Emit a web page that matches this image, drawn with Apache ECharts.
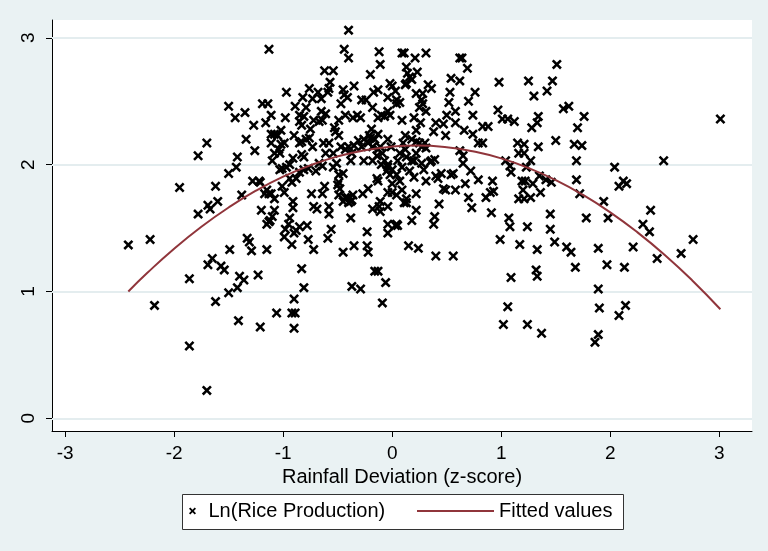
<!DOCTYPE html>
<html>
<head>
<meta charset="utf-8">
<script src="https://cdn.jsdelivr.net/npm/echarts@6/dist/echarts.min.js"></script>
<style>
html,body{margin:0;padding:0;background:#eaf2f3;}
#chart{width:768px;height:551px;}
</style>
</head>
<body>
<div id="chart"></div>
<script>
var xTicks = [-3, -2, -1, 0, 1, 2, 3];
var yTicks = [0, 1, 2, 3];
var xTitle = 'Rainfall Deviation (z-score)';
var scatterName = 'Ln(Rice Production)';
var fitName = 'Fitted values';

var ricePoints = [
[-2.42,1.367],[-2.22,1.41],[-2.18,0.89],[-1.95,1.82],[-1.86,1.10],[-1.86,0.57],[-1.78,2.07],[-1.78,1.61],
[-1.70,2.17],[-1.70,0.22],[-1.69,1.68],[-1.67,1.65],[-1.69,1.21],[-1.65,1.26],[-1.62,0.92],[-1.62,1.83],
[-1.60,1.71],[-1.57,1.20],[-1.54,1.17],[-1.50,2.46],[-1.50,1.93],[-1.49,1.33],[-1.50,0.99],[-1.44,2.37],
[-1.42,2.06],[-1.43,1.98],[-1.41,0.77],[-1.40,1.12],[-1.42,1.03],[-1.38,1.76],[-1.35,2.41],[-1.34,2.20],
[-1.36,1.09],[-1.33,1.42],[-1.31,1.39],[-1.29,1.32],[-1.27,2.31],[-1.26,2.11],[-1.23,1.13],[-1.21,0.72],
[-1.21,1.86],[-1.20,1.64],[-1.19,2.48],[-1.16,2.33],[-1.15,1.33],[-1.15,1.80],[-1.13,2.91],[-1.14,2.48],
[-1.11,2.24],[-1.11,2.17],[-1.10,2.03],[-1.13,1.55],[-1.11,1.77],[-1.08,1.73],[-1.06,0.83],[-1.03,1.96],
[-1.01,1.97],[-0.99,1.43],[-0.98,2.37],[-0.97,2.57],[-0.95,1.53],[-0.94,1.58],[-0.92,1.37],[-0.92,0.83],
[-0.89,0.83],[-0.90,0.94],[-0.90,0.71],[-0.91,1.71],[-0.91,1.66],[-0.89,2.46],[-0.88,1.48],[-0.83,1.18],
[-0.85,2.39],[-0.82,2.53],[-0.81,1.03],[-0.78,1.52],[-0.77,1.41],[-0.72,1.33],[-0.76,2.60],[-0.74,1.77],
[-0.72,1.67],[-0.69,1.65],[-0.68,2.57],[-0.64,1.77],[-0.62,1.83],[-0.62,2.74],[-0.59,1.42],[-0.58,1.61],
[-0.56,1.49],[-0.54,2.74],[-0.57,2.65],[-0.50,1.84],[-0.48,1.81],[-0.45,1.31],[-0.44,2.91],[-0.40,3.06],
[-0.40,2.84],[-0.38,1.58],[-0.41,1.74],[-0.40,1.70],[-0.37,1.72],[-0.35,2.62],[-0.35,1.36],[-0.37,1.04],
[-0.29,1.02],[-0.23,1.47],[-0.23,1.36],[-0.22,1.31],[-0.20,2.71],[-0.16,1.16],[-0.13,1.16],[-0.12,2.89],
[-0.11,2.79],[-0.09,0.91],[-0.06,1.07],[-0.04,1.46],[0.03,1.52],[0.05,1.52],[0.09,2.88],[0.11,2.88],
[0.13,2.77],[0.18,1.56],[0.15,1.36],[0.24,1.34],[0.21,2.84],[0.31,2.88],[0.23,2.73],[0.40,1.28],
[0.38,1.53],[0.39,1.59],[0.43,1.69],[0.56,1.28],[0.62,2.84],[0.64,2.84],[0.69,2.76],[0.54,2.68],
[0.62,2.66],[0.76,2.57],[0.73,1.66],[0.70,1.74],[0.91,1.62],[0.98,2.65],[0.97,2.43],[0.99,1.41],
[1.02,0.74],[1.06,0.88],[1.08,1.51],[1.09,1.11],[1.07,1.58],[1.17,1.37],[1.24,0.74],[1.24,1.51],
[1.25,2.66],[1.30,2.54],[1.28,2.29],[1.33,1.33],[1.32,1.17],[1.33,1.12],[1.37,0.67],[1.42,2.58],
[1.47,2.66],[1.51,2.79],[1.49,1.39],[1.45,1.61],[1.45,1.49],[1.50,2.19],[1.60,1.35],[1.64,1.31],
[1.57,2.44],[1.62,2.46],[1.68,1.19],[1.70,2.29],[1.76,2.38],[1.69,1.88],[1.69,2.03],[1.67,2.16],
[1.74,2.15],[1.72,1.77],[1.78,1.58],[1.86,0.60],[1.89,0.66],[1.89,1.02],[1.90,0.87],[1.89,1.34],
[1.94,1.71],[1.97,1.21],[1.98,1.58],[2.04,1.98],[2.08,1.83],[2.08,0.81],[2.12,1.87],[2.15,1.85],
[2.13,1.19],[2.14,0.89],[2.21,1.35],[2.30,1.53],[2.36,1.47],[2.37,1.64],[2.43,1.26],[2.49,2.03],
[2.65,1.30],[2.76,1.41],[3.01,2.36],
[1.15,2.17],[1.16,2.09],[1.21,2.09],[1.27,2.03],[1.23,1.98],[1.19,1.87],[1.22,1.87],[1.16,1.73],
[1.21,1.73],[1.27,1.74],[1.20,1.80],[1.34,2.38],[1.34,2.14],[1.36,1.78],[1.35,1.91],[1.41,1.88],
[1.46,1.86],[1.29,1.85],[1.33,2.33],[1.04,2.03],[1.08,1.99],[1.09,1.94],[1.01,2.36],[1.06,2.36],
[1.12,2.34],[1.21,2.16],
[0.72,1.95],[0.67,1.85],[0.79,1.88],[0.92,1.87],[0.90,1.78],[0.86,1.74],[0.93,1.79],[0.83,2.30],
[0.88,2.30],[0.79,2.17],[0.83,2.17],[0.74,2.39],[0.74,2.24],[0.70,2.50],[0.66,2.27],[0.58,2.33],
[0.58,2.42],[0.50,2.39],[0.49,2.23],[0.47,2.32],[0.53,2.57],[0.52,2.49],[0.65,2.07],[0.62,2.11],
[0.65,2.01],[0.56,1.93],[0.58,1.80],[0.49,1.80],[0.45,1.93],[0.40,1.91],[0.42,1.89],[0.47,1.81],
[0.31,2.13],[0.36,2.03],[0.39,2.04],[0.35,2.02],[0.38,2.26],[0.40,2.33],[0.36,2.60],[0.33,2.63],
[0.28,2.56],[0.22,2.56],[0.27,2.51],[0.25,2.45],[0.28,2.48],[0.31,2.42],[0.20,2.37],[0.26,2.33],
[0.22,2.27],[0.18,2.20],[0.22,2.18],[0.25,2.17],[0.27,2.14],[0.30,2.17],[0.22,2.09],[0.20,2.03],
[0.27,2.01],[0.29,1.96],[0.20,1.90],[0.16,1.95],[0.22,1.77],[0.13,1.73],[0.11,1.70],[0.09,1.80],
[0.04,1.76],[0.00,1.78],[-0.04,1.78],[0.00,1.85],[0.07,1.87],[0.04,1.92],[-0.02,1.92],[-0.05,1.95],
[-0.04,1.98],[0.00,1.96],[0.05,2.03],[0.13,2.06],[0.10,2.17],[0.12,2.23],[0.09,2.35],[0.07,2.49],
[0.04,2.48],[0.04,2.51],[0.13,2.64],[0.18,2.67],[0.12,2.63],[0.16,2.69],[0.14,2.72],[0.00,2.62],
[0.03,2.58],[-0.02,2.64],[-0.04,2.53],[-0.04,2.42],[-0.02,2.39],[-0.07,2.38],[-0.10,2.39],[-0.13,2.37],
[-0.18,2.45],[-0.17,2.57],[-0.13,2.59],[-0.24,2.51],[-0.28,2.51],[-0.29,2.37],[-0.32,2.39],[-0.36,2.37],
[-0.37,2.09],[-0.38,2.03],[-0.40,2.14],[-0.43,2.12],[-0.43,2.39],[-0.44,2.55],[-0.41,2.53],[-0.45,2.59],
[-0.47,2.48],[-0.49,2.35],[-0.53,2.29],[-0.52,2.26],[-0.49,2.23],[-0.47,2.14],[-0.54,2.09],[-0.51,2.01],
[-0.54,1.98],[-0.58,2.17],[-0.63,2.17],[-0.61,2.09],[-0.64,1.99],[-0.67,2.01],[-0.70,1.95],[-0.64,2.35],
[-0.61,2.40],[-0.67,2.34],[-0.72,2.35],[-0.75,2.28],[-0.79,2.20],[-0.76,2.21],[-0.73,2.14],[-0.83,2.18],
[-0.85,2.17],[-0.83,2.08],[-0.81,2.06],[-0.81,1.96],[-0.77,1.97],[-0.85,1.94],[-0.88,1.89],[-0.85,2.34],
[-0.83,2.31],[-0.81,2.38],[-0.79,2.45],[-0.73,2.52],[-0.65,2.52],[-0.59,2.57],[-0.58,2.60],[-0.65,2.42],
[-0.90,2.23],[-0.91,2.05],[-0.94,2.00],[-0.97,1.98],[-0.99,2.17],[-1.02,2.16],[-1.05,2.23],[-1.02,2.27],
[-1.04,2.12],[-1.08,2.24],[-1.08,2.09],[-1.11,2.39],[-1.03,2.09],[-0.94,1.89],[-0.92,1.86],[-1.01,1.83],
[-0.99,1.78],[-0.49,1.76],[-0.43,1.74],[-0.45,1.71],[-0.38,1.71],[-0.36,1.76],[-0.45,1.93],[-0.49,1.92],
[-0.27,1.77],[-0.22,1.81],[-0.14,1.89],[-0.13,1.87],[-0.11,1.71],[-0.12,1.67],[-0.11,1.63],[-0.04,1.67],
[-0.18,2.03],[-0.14,2.07],[-0.16,2.20],[-0.20,2.21],[-0.22,2.17],[-0.26,2.20],[-0.28,2.14],[-0.26,2.03],
[-0.31,2.19],[-0.35,2.15],[-0.18,2.14],[-0.11,2.14],[-0.09,2.09],[-0.13,2.12],[-0.19,2.28],[-0.21,2.23],
[-0.13,2.24],[-0.04,2.20],[-0.01,2.14],[-0.07,2.03],[-0.04,2.00],[-0.10,2.00],[0.07,2.09],[0.18,2.03],
[0.12,2.12],[-1.28,1.87],[-1.22,1.87],[-1.17,1.77],[-1.13,1.77],[-1.08,1.64],[-1.10,1.59],[-1.15,1.53],
[-1.12,1.56],[-0.98,1.49],[-0.90,1.46],[-0.85,1.51],[-0.58,1.67],[-0.49,1.86],[0.13,1.70],[-0.18,1.65],
[-0.04,1.53],[0.04,1.53],[0.22,1.64],[0.31,1.87],[0.54,1.92],[0.09,1.98]
];

var fitX = [-2.42,-2.25,-2.0,-1.75,-1.5,-1.25,-1.0,-0.75,-0.5,-0.25,0.0,0.22,0.5,0.75,1.0,1.25,1.5,1.75,2.0,2.25,2.5,2.75,3.01];
var fitY = [1.000,1.143,1.337,1.510,1.662,1.794,1.905,1.995,2.065,2.114,2.142,2.150,2.137,2.103,2.049,1.973,1.878,1.761,1.624,1.466,1.288,1.089,0.860];

var fitData = fitX.map(function (x, i) { return [x, fitY[i]]; });
var xMark = 'path://M0,1.8 L1.8,0 L5,3.2 L8.2,0 L10,1.8 L6.8,5 L10,8.2 L8.2,10 L5,6.8 L1.8,10 L0,8.2 L3.2,5 Z';
var fontFam = '"Liberation Sans", Arial, sans-serif';

var chart = echarts.init(document.getElementById('chart'));
chart.setOption({
  backgroundColor: '#eaf2f3',
  animation: false,
  textStyle: { fontFamily: fontFam },
  grid: { left: 52, right: 16, top: 20, bottom: 120, show: true, backgroundColor: '#ffffff', borderWidth: 0 },
  graphic: [{
    type: 'rect', z: 0,
    shape: { x: 182.5, y: 494.5, width: 441, height: 35 },
    style: { fill: '#ffffff', stroke: '#333333', lineWidth: 1 }
  }],
  legend: [{
    data: [scatterName], left: 189, top: 501, padding: 0, z: 10,
    itemWidth: 22, itemHeight: 7, symbolKeepAspect: true,
    textStyle: { fontSize: 20, color: '#000', fontFamily: fontFam }
  }, {
    data: [{ name: fitName, icon: 'rect' }], left: 417, top: 501, padding: 0, z: 10,
    itemWidth: 77, itemHeight: 2,
    itemStyle: { color: '#90353b', borderWidth: 0 },
    textStyle: { fontSize: 20, color: '#000', fontFamily: fontFam }
  }],
  xAxis: {
    type: 'value', min: -3.12, max: 3.30,
    name: xTitle, nameLocation: 'middle', nameGap: 35,
    nameTextStyle: { fontSize: 20, color: '#000', fontFamily: fontFam },
    axisLine: { show: true, onZero: false, lineStyle: { color: '#000', width: 1 } },
    axisTick: { show: true, length: 6, customValues: xTicks, lineStyle: { color: '#000' } },
    axisLabel: { customValues: xTicks, fontSize: 19, color: '#000', margin: 13, fontFamily: fontFam },
    splitLine: { show: false }
  },
  yAxis: {
    type: 'value', min: -0.1, max: 3.14,
    axisLine: { show: true, onZero: false, lineStyle: { color: '#000', width: 1 } },
    axisTick: { show: true, length: 6, customValues: yTicks, lineStyle: { color: '#000' } },
    axisLabel: { customValues: yTicks, rotate: 90, fontSize: 19, color: '#000', margin: 14, fontFamily: fontFam },
    splitLine: { show: false }
  },
  series: [{
    name: scatterName, type: 'scatter', data: ricePoints,
    symbol: xMark, symbolSize: 10, z: 3,
    itemStyle: { color: '#000000', opacity: 1 },
    markLine: {
      silent: true, symbol: 'none', z: 1, animation: false,
      label: { show: false },
      lineStyle: { color: '#e4edef', width: 2, type: 'solid' },
      data: yTicks.map(function (v) { return { yAxis: v }; })
    }
  }, {
    name: fitName, type: 'line', data: fitData, smooth: true,
    symbol: 'none', z: 4,
    lineStyle: { color: '#90353b', width: 2 },
    itemStyle: { color: '#90353b' }
  }]
});
</script>
</body>
</html>
